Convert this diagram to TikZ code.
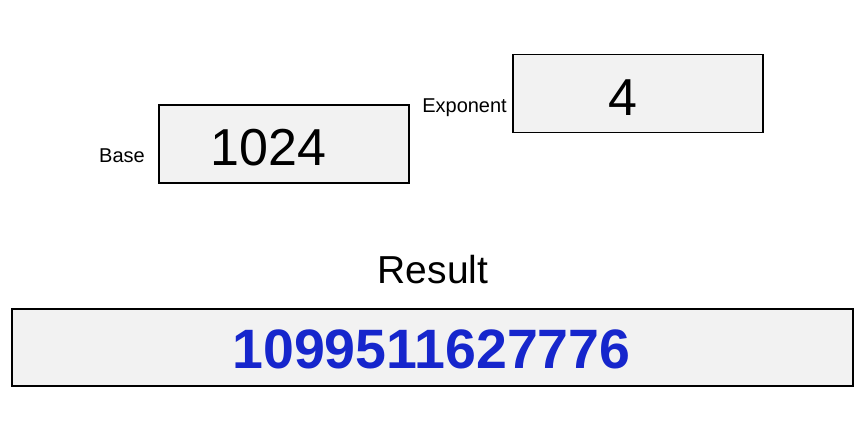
\documentclass[tikz,border=0pt]{standalone}
\usepackage{fontspec}
\setmainfont{Liberation Sans}
\definecolor{resblue}{RGB}{22,38,204}

\begin{document}
\begin{tikzpicture}
[
  x=1pt, y=-1pt,
  field/.style={draw,line width=1.8pt,fill=black!5,minimum width=250pt,minimum height=78pt,inner sep=0pt},
  val/.style={anchor=base,inner sep=0pt,font=\fontsize{52}{52}\selectfont},
  tag/.style={anchor=base east,inner sep=0pt,font=\fontsize{20}{20}\selectfont}
]
\useasboundingbox (0,0) rectangle (868,428);

% input fields
\node[field] (base) at (284,144) {};
\node[val] (baseval) at (268.5,165) {1024};
\node[tag] (basetag) at (145,162) {Base};

\node[field] (expo) at (638,93.5) {};
\node[val] (expoval) at (623,115) {4};
\node[tag] (expotag) at (507,113) {Exponent};

% result
\node[anchor=base,inner sep=0pt,font=\fontsize{39}{39}\selectfont] (restag) at (433,283) {Result};
\node[field,minimum width=841pt,minimum height=77pt] (res) at (432.5,347.5) {};
\node[val,font=\fontsize{55.5}{55.5}\selectfont\bfseries,text=resblue] (resval) at (431.5,368) {1099511627776};
\end{tikzpicture}
\end{document}
